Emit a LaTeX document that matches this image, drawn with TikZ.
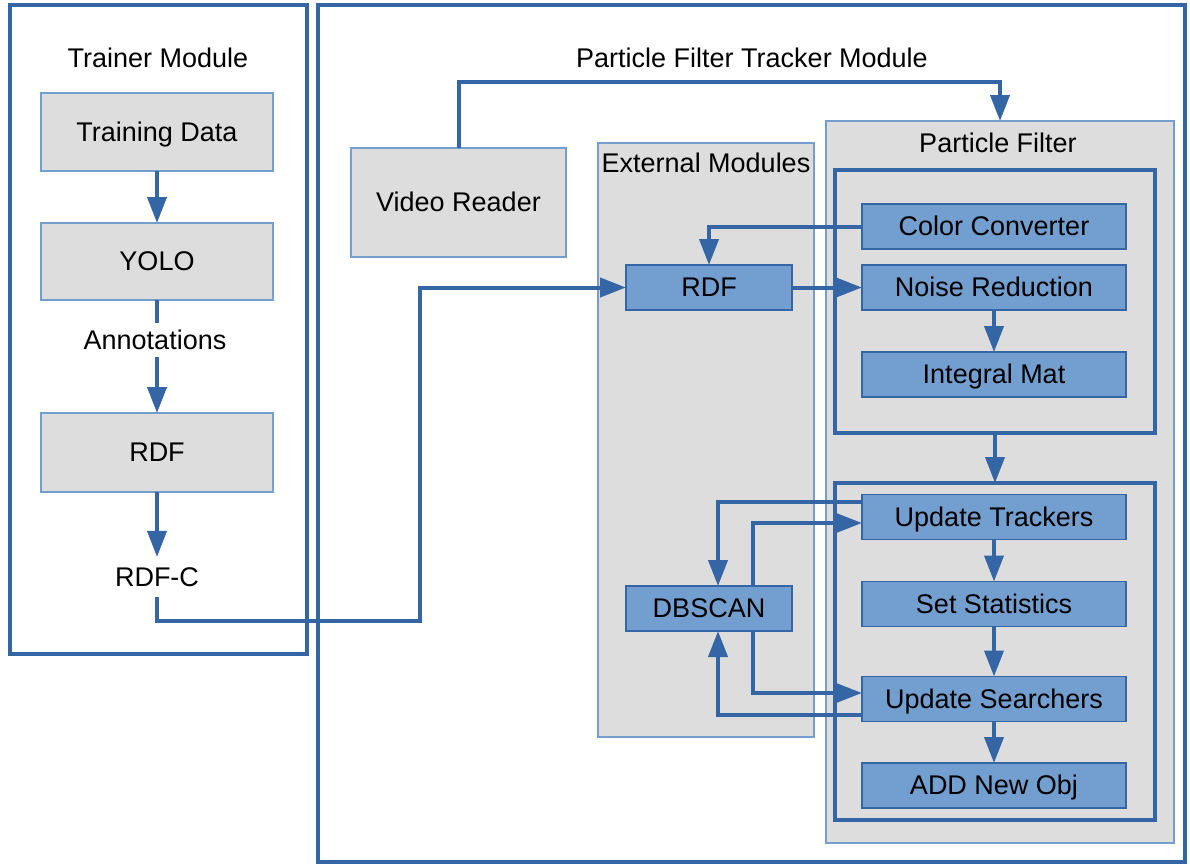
\documentclass[tikz,border=0pt]{standalone}
\usepackage{fontspec}
\setmainfont{Liberation Sans}
\usetikzlibrary{arrows.meta}
\definecolor{lineblue}{HTML}{3465A4}
\definecolor{fillblue}{HTML}{729FCF}
\definecolor{panelgray}{HTML}{DDDDDD}
\begin{document}
\begin{tikzpicture}[x=1pt,y=-1pt,
  font=\fontsize{27}{32}\selectfont,
  txt/.style={text height=24.4pt, text depth=5.7pt, inner sep=0pt, outer sep=0pt, align=center},
  frame/.style={draw=lineblue, line width=4pt, inner sep=0pt, outer sep=0pt},
  panel/.style={draw=fillblue, line width=1.2pt, fill=panelgray, inner sep=0pt, outer sep=0pt},
  graybox/.style={txt, draw=fillblue, line width=1.5pt, fill=panelgray},
  bluebox/.style={txt, draw=lineblue, line width=1.2pt, fill=fillblue,
    minimum width=264pt, minimum height=45pt},
  extbox/.style={txt, draw=lineblue, line width=1.2pt, fill=fillblue,
    minimum width=166pt, minimum height=45pt},
  link/.style={draw=lineblue, line width=4pt},
  arrow/.style={link, -{Triangle[length=26pt,width=19pt]}}
]
\useasboundingbox (0,0) rectangle (1190,865);

% ---------- Trainer module ----------
\node[frame, minimum width=297pt, minimum height=649pt] (trainer) at (158.5,329.5) {};
\node[txt] (trainertitle) at (158,58) {Trainer Module};
\node[graybox, minimum width=232pt, minimum height=78pt] (data) at (157,132) {Training Data};
\node[graybox, minimum width=232pt, minimum height=77pt] (yolo) at (157,261.5) {YOLO};
\node[txt, inner sep=2pt] (ann) at (155,340) {Annotations};
\node[graybox, minimum width=232pt, minimum height=79pt] (rdfa) at (157,452.5) {RDF};
\node[txt, inner sep=5pt] (rdfc) at (157,577) {RDF-C};

% ---------- Particle filter tracker module ----------
\node[frame, minimum width=867pt, minimum height=857pt] (tracker) at (751.5,433.5) {};
\node[txt] (trackertitle) at (752,58) {Particle Filter Tracker Module};
\node[graybox, minimum width=215pt, minimum height=109pt] (video) at (458.5,202.5) {Video Reader};

\node[panel, minimum width=216pt, minimum height=594pt] (ext) at (706,440) {};
\node[txt] (exttitle) at (706,163) {External Modules};
\node[panel, minimum width=348pt, minimum height=722pt] (pf) at (1000,482) {};
\node[txt] (pftitle) at (998,143) {Particle Filter};

\node[frame, minimum width=320pt, minimum height=263pt] (stageA) at (995,301.5) {};
\node[frame, minimum width=320pt, minimum height=337pt] (stageB) at (995,651.5) {};

\node[bluebox] (conv) at (994,226.5) {Color Converter};
\node[bluebox] (noise) at (994,287.5) {Noise Reduction};
\node[bluebox] (integral) at (994,374.5) {Integral Mat};
\node[bluebox] (upd) at (994,517) {Update Trackers};
\node[bluebox] (stats) at (994,604) {Set Statistics};
\node[bluebox] (search) at (994,699) {Update Searchers};
\node[bluebox] (addobj) at (994,785.5) {ADD New Obj};

\node[extbox] (rdfb) at (709,287.5) {RDF};
\node[extbox] (dbscan) at (709,608.5) {DBSCAN};

% ---------- connectors ----------
\draw[arrow] (data) -- (yolo);
\draw[link] (yolo.south) -- (yolo.south |- ann.north);
\draw[arrow] (yolo.south |- ann.south) -- (rdfa.north);
\draw[arrow] (rdfa) -- (rdfc);
\coordinate (rdfcbend) at (420,621);
\draw[arrow] (rdfc.south) |- (rdfcbend) |- (rdfb.west);

\coordinate (videoup) at (459,82);
\draw[arrow] (video.north) |- (videoup) -| (pf.north);

\draw[arrow] (conv.west) -| (rdfb.north);
\draw[arrow] (rdfb.east) -- (noise.west);
\draw[arrow] (noise) -- (integral);
\draw[arrow] (stageA) -- (stageB);
\draw[arrow] (upd) -- (stats);
\draw[arrow] (stats) -- (search);
\draw[arrow] (search) -- (addobj);

\draw[arrow] ([yshift=15pt]upd.west) -| ([xshift=9pt]dbscan.north);
\draw[arrow] ([xshift=44pt]dbscan.north) |- ([yshift=-6pt]upd.west);
\draw[arrow] ([xshift=44pt]dbscan.south) |- ([yshift=6pt]search.west);
\draw[arrow] ([yshift=-16pt]search.west) -| ([xshift=9pt]dbscan.south);
\end{tikzpicture}
\end{document}
